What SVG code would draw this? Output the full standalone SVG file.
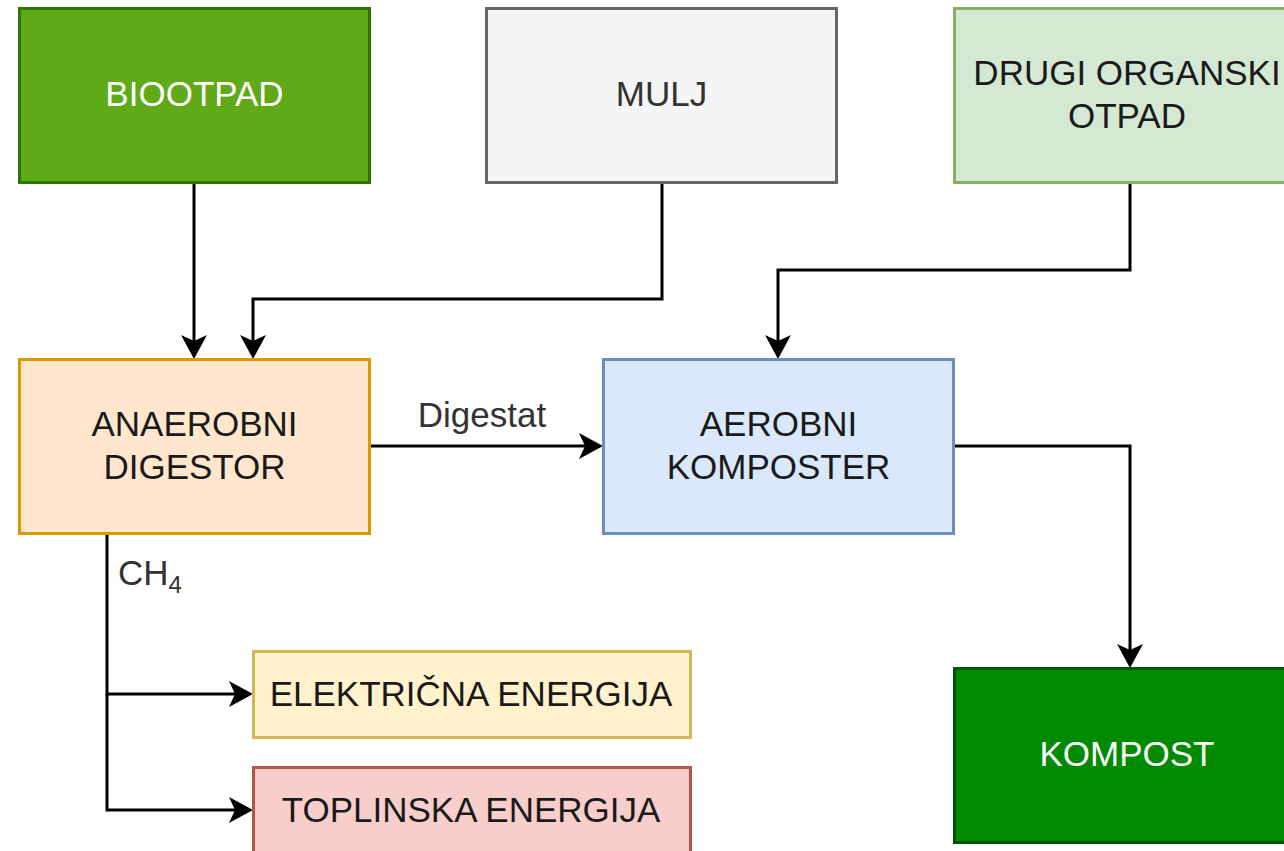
<svg xmlns="http://www.w3.org/2000/svg" width="1284" height="851" viewBox="0 0 1284 851">
<style>
.t{font-family:"Liberation Sans",Arial,Helvetica,sans-serif;font-size:35px;text-anchor:middle;fill:#1a1a1a}
.w{fill:#ffffff}
.c{fill:none;stroke:#000;stroke-width:3}
rect{stroke-width:3}
</style>
<defs>
<marker id="a" markerUnits="userSpaceOnUse" markerWidth="28" markerHeight="28" viewBox="0 0 28 28" refX="14" refY="14" orient="auto">
<path d="M2,1 L26,14 L2,27 L8,14 Z" fill="#000"/>
</marker>
</defs>
<rect width="1284" height="851" fill="#fff" style="stroke:none"/>
<g id="connectors">
<path class="c" d="M194,183 V347" marker-end="url(#a)"/>
<path class="c" d="M662,183 V299 H253 V347" marker-end="url(#a)"/>
<path class="c" d="M1130,183 V270 H778 V347" marker-end="url(#a)"/>
<path class="c" d="M370,446 H591" marker-end="url(#a)"/>
<path class="c" d="M954,446 H1130 V656" marker-end="url(#a)"/>
<path class="c" d="M107,534 V694 H241" marker-end="url(#a)"/>
<path class="c" d="M107,694 V810 H241" marker-end="url(#a)"/>
<text class="t" x="482" y="427" style="fill:#333">Digestat</text>
<text class="t" x="118" y="585" style="text-anchor:start;fill:#333">CH<tspan font-size="24" dy="8">4</tspan></text>
</g>
<g id="biootpad">
<rect x="19.5" y="8.5" width="350" height="174" fill="#60a917" stroke="#2d7600"/>
<text class="t w" x="194.5" y="106">BIOOTPAD</text>
</g>
<g id="mulj">
<rect x="486.5" y="8.5" width="350" height="174" fill="#f5f5f5" stroke="#666666"/>
<text class="t" x="661.5" y="106" style="fill:#333">MULJ</text>
</g>
<g id="drugi">
<rect x="954.5" y="8.5" width="350" height="174" fill="#d5e8d4" stroke="#82b366"/>
<text class="t" x="1127" y="85">DRUGI ORGANSKI</text>
<text class="t" x="1127" y="128">OTPAD</text>
</g>
<g id="anaerobni">
<rect x="19.5" y="359.5" width="350" height="174" fill="#ffe6cc" stroke="#d79b00"/>
<text class="t" x="194.5" y="436">ANAEROBNI</text>
<text class="t" x="194.5" y="479">DIGESTOR</text>
</g>
<g id="aerobni">
<rect x="603.5" y="359.5" width="350" height="174" fill="#dae8fc" stroke="#6c8ebf"/>
<text class="t" x="778.5" y="436">AEROBNI</text>
<text class="t" x="778.5" y="479">KOMPOSTER</text>
</g>
<g id="elektricna">
<rect x="253.5" y="651.5" width="437" height="86" fill="#fff2cc" stroke="#d6b656"/>
<text class="t" x="471" y="706">ELEKTRIČNA ENERGIJA</text>
</g>
<g id="toplinska">
<rect x="253.5" y="767.5" width="437" height="86" fill="#f8cecc" stroke="#b85450"/>
<text class="t" x="471" y="822">TOPLINSKA ENERGIJA</text>
</g>
<g id="kompost">
<rect x="954.5" y="668.5" width="350" height="174" fill="#008a00" stroke="#005700"/>
<text class="t w" x="1127" y="766">KOMPOST</text>
</g>
</svg>
